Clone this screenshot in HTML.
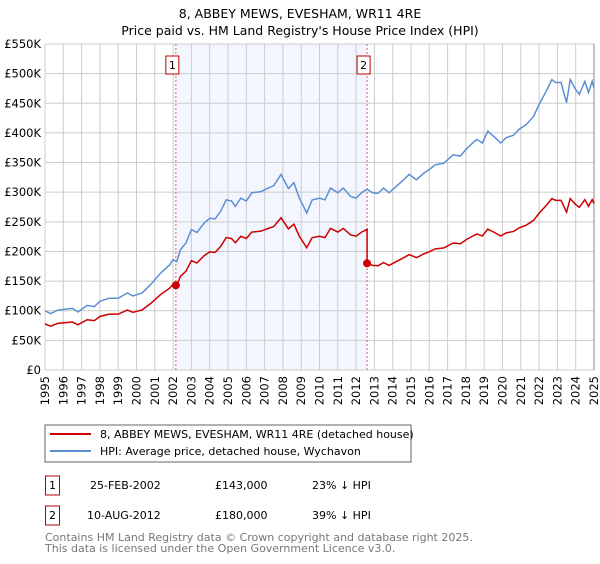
<!DOCTYPE html>
<html><head><meta charset="utf-8"><style>
body{margin:0;background:#fff;font-family:"DejaVu Sans","Liberation Sans",sans-serif;}
svg text{font-family:"DejaVu Sans","Liberation Sans",sans-serif;}
</style></head><body>
<svg id="chart" width="600" height="560" xmlns="http://www.w3.org/2000/svg">
<text x="300" y="18" text-anchor="middle" font-size="12.5">8, ABBEY MEWS, EVESHAM, WR11 4RE</text>
<text x="300" y="35" text-anchor="middle" font-size="12.5">Price paid vs. HM Land Registry's House Price Index (HPI)</text>
<g id="plot"></g>
<rect x="45" y="425" width="366" height="37" fill="#fff" stroke="#666"/>
<line x1="50" y1="434" x2="91" y2="434" stroke="#cc0000" stroke-width="2"/>
<text x="100" y="438" font-size="11">8, ABBEY MEWS, EVESHAM, WR11 4RE (detached house)</text>
<line x1="50" y1="451" x2="91" y2="451" stroke="#5b8fd4" stroke-width="2"/>
<text x="100" y="455" font-size="11">HPI: Average price, detached house, Wychavon</text>
<g>
<rect x="45.5" y="476" width="14" height="19" fill="#fff" stroke="#b00"/>
<text x="52.5" y="489" text-anchor="middle" font-size="11">1</text>
<text x="90" y="489" font-size="11">25-FEB-2002</text>
<text x="215" y="489" font-size="11">£143,000</text>
<text x="312" y="489" font-size="11">23% ↓ HPI</text></g>
<g>
<rect x="45.5" y="506" width="14" height="19" fill="#fff" stroke="#b00"/>
<text x="52.5" y="519" text-anchor="middle" font-size="11">2</text>
<text x="87" y="519" font-size="11">10-AUG-2012</text>
<text x="215" y="519" font-size="11">£180,000</text>
<text x="312" y="519" font-size="11">39% ↓ HPI</text></g>
<text x="45" y="541" font-size="11" fill="#777">Contains HM Land Registry data © Crown copyright and database right 2025.</text>
<text x="45" y="552" font-size="11" fill="#777">This data is licensed under the Open Government Licence v3.0.</text>
</svg>
<script>
const hpiYears=[1995,1995.3,1995.7,1996.5,1996.8,1997.3,1997.7,1998,1998.5,1999,1999.5,1999.8,2000.3,2000.8,2001.3,2001.8,2002,2002.2,2002.4,2002.7,2003,2003.3,2003.7,2004,2004.3,2004.6,2004.9,2005.2,2005.4,2005.7,2006,2006.3,2006.8,2007.2,2007.5,2007.9,2008.3,2008.6,2008.9,2009.3,2009.6,2010,2010.3,2010.6,2011,2011.3,2011.7,2012,2012.3,2012.6,2012.9,2013.2,2013.5,2013.8,2014.2,2014.6,2014.9,2015.3,2015.7,2016,2016.3,2016.8,2017.3,2017.7,2018,2018.3,2018.6,2018.9,2019.2,2019.6,2019.9,2020.2,2020.6,2020.9,2021.3,2021.7,2022,2022.4,2022.7,2022.9,2023.2,2023.5,2023.7,2024,2024.2,2024.5,2024.7,2024.9,2025];
const hpiValues=[100,95,101,104,98,109,107,116,121,121,130,125,130,145,163,177,186,183,203,214,237,232,248,256,255,268,287,285,276,290,285,299,301,307,311,330,306,316,290,265,287,290,287,307,299,307,293,290,299,305,299,298,307,299,310,321,330,321,332,338,346,349,363,361,372,381,389,383,403,392,383,392,396,406,414,428,448,471,490,485,485,451,490,473,465,487,468,487,476];
const saleDates=[2002.15,2012.6];
const salePrices=[143,180];
const yTicks=[0,50,100,150,200,250,300,350,400,450,500,550];
const yTickLabels=["£0","£50K","£100K","£150K","£200K","£250K","£300K","£350K","£400K","£450K","£500K","£550K"];
const xTicks=[];for(let y=1995;y<=2025;y++)xTicks.push(y);

const L=45,R=594,T=44,B=370;
const X=t=>L+(t-1995)/30*(R-L);
const Y=v=>B-v/550*(B-T);
const NS="http://www.w3.org/2000/svg";
const g=document.getElementById('plot');
function mk(tag,attrs,parent){const e=document.createElementNS(NS,tag);for(const k in attrs)e.setAttribute(k,attrs[k]);(parent||g).appendChild(e);return e;}
function hpiAt(t){for(let i=1;i<hpiYears.length;i++){if(t<=hpiYears[i]){const a=hpiYears[i-1],b=hpiYears[i];return hpiValues[i-1]+(hpiValues[i]-hpiValues[i-1])*(t-a)/(b-a);}}return hpiValues[hpiValues.length-1];}

const shade=mk('rect',{x:X(saleDates[0]),y:T,width:X(saleDates[1])-X(saleDates[0]),height:B-T,fill:'#f3f6fe'});


xTicks.forEach(t=>{const l=mk('line',{x1:X(t),x2:X(t),y1:T,y2:B,stroke:'#ccc','stroke-width':1});


const tx=mk('text',{x:0,y:0,'font-size':11.5,'text-anchor':'end',transform:`translate(${X(t)+4},${B+6}) rotate(-90)`});tx.textContent=t;

});
yTicks.forEach((v,i)=>{const l=mk('line',{x1:L,x2:R,y1:Y(v),y2:Y(v),stroke:'#ccc','stroke-width':1});


const tx=mk('text',{x:L-4,y:Y(v)+4,'font-size':11.5,'text-anchor':'end'});tx.textContent=yTickLabels[i];

});
mk('line',{x1:R,x2:R,y1:T,y2:B,stroke:'#888'});

saleDates.forEach((d,i)=>{const l=mk('line',{x1:X(d),x2:X(d),y1:T,y2:B,stroke:'#e06060','stroke-dasharray':'2,2'});


const bx=mk('rect',{x:X(d)-10,y:56,width:13,height:18,fill:'#fff',stroke:'#b00'});


const tx=mk('text',{x:X(d)-3.5,y:69,'font-size':11,'text-anchor':'middle'});tx.textContent=i+1;

});

const hp=mk('polyline',{points:hpiYears.map((t,i)=>X(t)+','+Y(hpiValues[i])).join(' '),fill:'none',stroke:'#5b8fd4','stroke-width':1.5});



const r1=salePrices[0]/hpiAt(saleDates[0]),r2=salePrices[1]/hpiAt(saleDates[1]);
const pts=[];
hpiYears.forEach((t,i)=>{if(t<saleDates[1])pts.push([t,hpiValues[i]*r1]);});
pts.push([saleDates[1],hpiAt(saleDates[1])*r1]);pts.push([saleDates[1],salePrices[1]]);
hpiYears.forEach((t,i)=>{if(t>saleDates[1])pts.push([t,hpiValues[i]*r2]);});
const rl=mk('polyline',{points:pts.map(p=>X(p[0])+','+Y(p[1])).join(' '),fill:'none',stroke:'#cc0000','stroke-width':1.5});


saleDates.forEach((d,i)=>{const c=mk('circle',{cx:X(d),cy:Y(salePrices[i]),r:4,fill:'#cc0000'});

});
</script>
</body></html>
